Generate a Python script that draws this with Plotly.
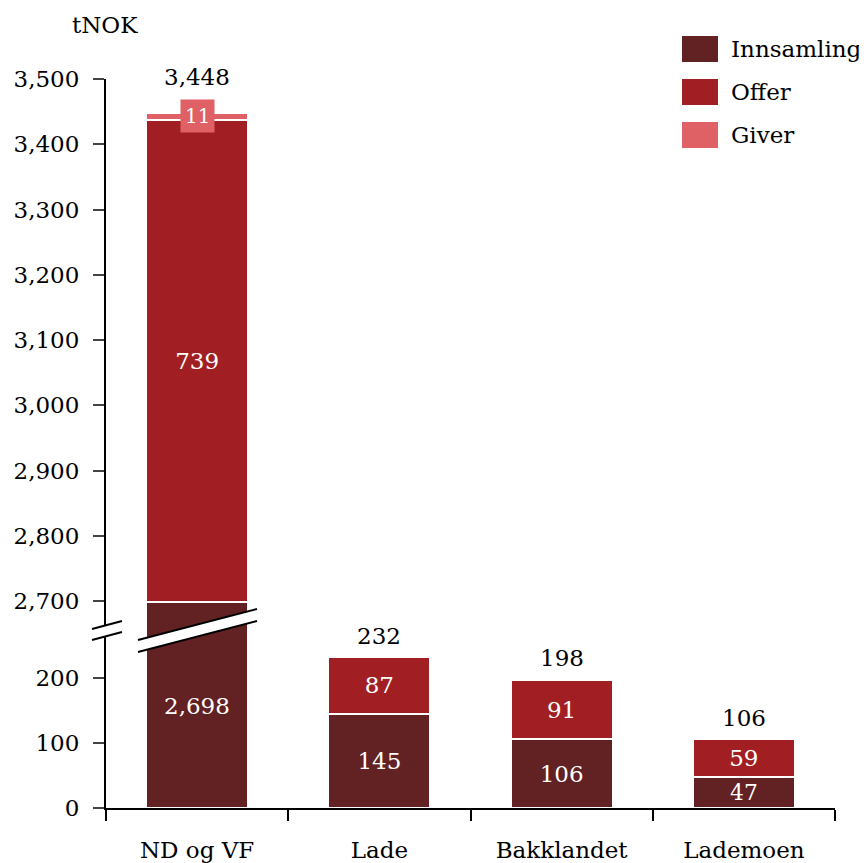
import plotly.graph_objects as go

# data
kategorier = ["ND og VF", "Lade", "Bakklandet", "Lademoen"]
innsamling = [2698, 145, 106, 47]
offer = [739, 87, 91, 59]
giver = [11, 0, 0, 0]
totaler = [3448, 232, 198, 106]

farger = {"Innsamling": "#622122", "Offer": "#A11F22", "Giver": "#E06165"}
FONT = "DejaVu Serif"
FS = 23

# pixel helpers relative to plot area (x 106..835, y 79..808 on screen)
def px(x):
    return (x - 106) / 729

def py(y):
    return (808 - y) / 729

split = py(630)
lo_max = 178 / 0.65
hi_min = 2700 - 29 / 0.6525

fig = go.Figure()

for ax_y in ["y", "y2"]:
    ax_x = "x" if ax_y == "y" else "x2"
    lower = ax_y == "y"
    t_inn = [f"{v:,}" if (lower and i > 0) else "" for i, v in enumerate(innsamling)]
    t_off = ["" if (lower and i == 0) or (not lower and i > 0) else f"{v:,}" for i, v in enumerate(offer)]
    for navn, vals, txt in [("Innsamling", innsamling, t_inn), ("Offer", offer, t_off),
                            ("Giver", giver, [""] * 4)]:
        fig.add_trace(go.Bar(
            x=kategorier, y=vals, name=navn, xaxis=ax_x, yaxis=ax_y,
            marker=dict(color=farger[navn], line=dict(color="white", width=2)),
            text=txt, textposition="inside", insidetextanchor="middle",
            textfont=dict(color="white", size=FS, family=FONT),
            showlegend=False, cliponaxis=True,
        ))

ann = []
# totals
for k, t in zip(kategorier[1:], totaler[1:]):
    ann.append(dict(x=k, y=t, xref="x", yref="y", text=f"{t:,}", showarrow=False,
                    yanchor="bottom", yshift=6, font=dict(size=FS, color="black", family=FONT)))
ann.append(dict(x=kategorier[0], y=totaler[0], xref="x2", yref="y2", text=f"{totaler[0]:,}",
                showarrow=False, yanchor="bottom", yshift=21,
                font=dict(size=FS, color="black", family=FONT)))
# giver label box
ann.append(dict(x=kategorier[0], y=3443, xref="x2", yref="y2", text=f"{giver[0]}", showarrow=False,
                bgcolor=farger["Giver"], borderpad=4,
                font=dict(size=20, color="white", family=FONT)))
# innsamling label for broken bar
ann.append(dict(x=kategorier[0], y=157, xref="x", yref="y", text=f"{innsamling[0]:,}", showarrow=False,
                font=dict(size=FS, color="white", family=FONT)))
# unit
ann.append(dict(x=px(70), y=py(25), xref="paper", yref="paper", text="tNOK", showarrow=False,
                xanchor="left", yanchor="middle", font=dict(size=FS, color="black", family=FONT)))

shapes = []
# legend
for i, navn in enumerate(["Innsamling", "Offer", "Giver"]):
    top = 36 + i * 43
    shapes.append(dict(type="rect", xref="paper", yref="paper", x0=px(682), x1=px(718),
                       y0=py(top), y1=py(top + 26), fillcolor=farger[navn], line=dict(width=0)))
    ann.append(dict(x=px(729), y=py(top + 13), xref="paper", yref="paper", text=navn,
                    showarrow=False, xanchor="left", yanchor="middle",
                    font=dict(size=FS, color="black", family=FONT)))

# break marks: bar and axis
def brudd(x0, y0a, x1, y1a, gap):
    shapes.append(dict(type="path", xref="paper", yref="paper", layer="above",
                       path=f"M {px(x0)},{py(y0a)} L {px(x1)},{py(y1a)} L {px(x1)},{py(y1a + gap)} "
                            f"L {px(x0)},{py(y0a + gap)} Z",
                       fillcolor="white", line=dict(width=0)))
    for g in (0, gap):
        shapes.append(dict(type="line", xref="paper", yref="paper", layer="above",
                           x0=px(x0), y0=py(y0a + g), x1=px(x1), y1=py(y1a + g),
                           line=dict(color="black", width=2)))

brudd(138, 640, 257, 609, 12)
brudd(92, 629, 122, 621, 11)

# page body adds 8px offset, so margins are shifted
fig.update_layout(
    width=867, height=863,
    margin=dict(l=98, r=40, t=71, b=63),
    plot_bgcolor="white", paper_bgcolor="white",
    barmode="stack", bargap=0.44,
    font=dict(family=FONT, size=FS, color="black"),
    xaxis=dict(domain=[0, 1], anchor="y", showline=True, linecolor="black", linewidth=2,
               ticks="outside", tickson="boundaries", ticklen=11, tickwidth=2, tickcolor="black",
               ticklabelstandoff=20, tickfont=dict(size=FS), range=[-0.5, 3.5], automargin=False),
    xaxis2=dict(domain=[0, 1], anchor="y2", matches="x", visible=False, automargin=False),
    yaxis=dict(domain=[0, split], range=[0, lo_max], tickvals=[0, 100, 200], showline=True,
               linecolor="black", linewidth=2, ticks="outside", ticklen=11, tickwidth=2,
               showgrid=False, zeroline=False, tickfont=dict(size=FS), ticklabelstandoff=9,
               automargin=False),
    yaxis2=dict(domain=[split, 1], range=[hi_min, 3500], tickvals=list(range(2700, 3501, 100)),
                tickformat=",d", showline=True, linecolor="black", linewidth=2, ticks="outside",
                ticklen=11, tickwidth=2, showgrid=False, zeroline=False, tickfont=dict(size=FS),
                ticklabelstandoff=9, automargin=False),
    annotations=ann, shapes=shapes,
)

fig.write_html("out.html")
